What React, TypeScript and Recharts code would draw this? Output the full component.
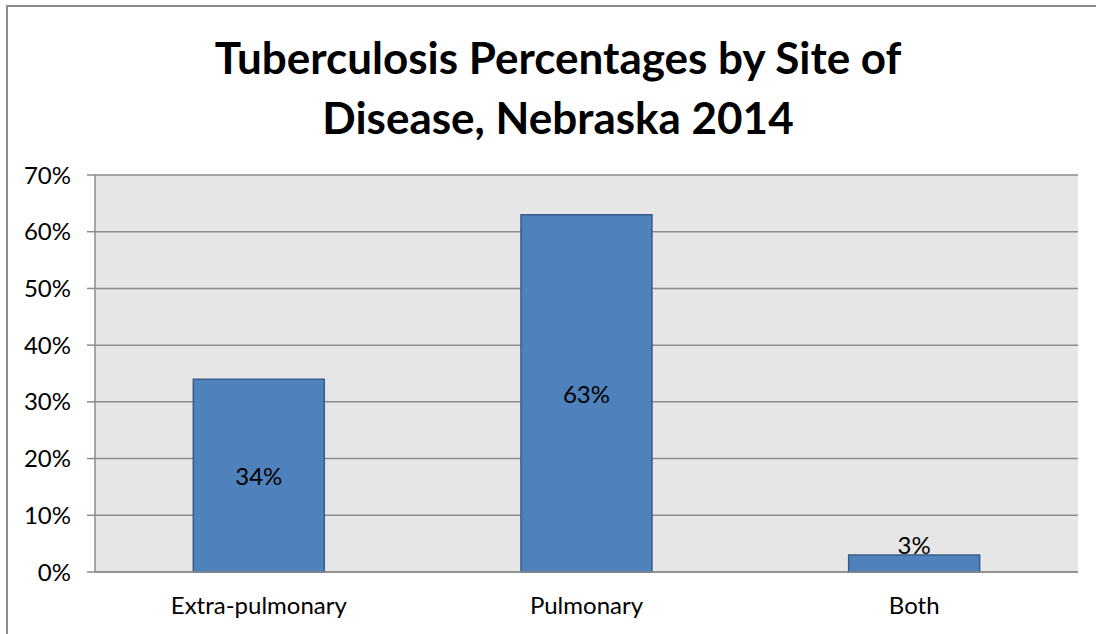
import React from 'react';
import {
  BarChart,
  Bar,
  XAxis,
  YAxis,
  CartesianGrid,
  LabelList,
} from 'recharts';

const categories = ['Extra-pulmonary', 'Pulmonary', 'Both'];
const percentages = [34, 63, 3];
const yTicks = [0, 10, 20, 30, 40, 50, 60, 70];
const boundaryTicks = [0, 1, 2, 3];

const data = categories.map((name, i) => ({ name, value: percentages[i], pos: i + 0.5 }));

const FONT = 'Lato, "Open Sans", sans-serif';

// Excel puts the label in the middle of the bar, or above it when the bar is too short
const BarLabel: React.FC<any> = ({ x, y, width, height, value }) => {
  const cx = x + width / 2;
  const inside = height > 30;
  const ty = inside ? y + height / 2 : y - 10;
  return (
    <text
      x={cx}
      y={ty}
      textAnchor="middle"
      dominantBaseline="central"
      fontFamily={FONT}
      fontSize={24}
      fill="#000"
    >
      {`${value}%`}
    </text>
  );
};

const App: React.FC = () => {
  return (
    <div style={{ position: 'fixed', left: 0, top: 0, width: 1096, height: 634, background: '#fff', overflow: 'hidden' }}>
      <div
        style={{
          position: 'absolute',
          left: 6,
          top: 5,
          width: 1120,
          height: 660,
          border: '2px solid #8a8a8a',
          boxSizing: 'border-box',
        }}
      />
      <div
        style={{
          position: 'absolute',
          left: 0,
          top: 27,
          width: 1116,
          textAlign: 'center',
          fontFamily: FONT,
          fontWeight: 700,
          fontSize: 44,
          lineHeight: '60px',
          color: '#000',
        }}
      >
        Tuberculosis Percentages by Site of
        <br />
        Disease, Nebraska 2014
      </div>
      <div style={{ position: 'absolute', left: 0, top: 0 }}>
        <BarChart
          width={1096}
          height={634}
          data={data}
          margin={{ top: 175, right: 18, left: 0, bottom: 0 }}
          barCategoryGap="30%"
        >
          <CartesianGrid vertical={false} fill="#e6e6e6" stroke="#8c8c8c" strokeWidth={1.5} />
          <XAxis
            xAxisId="cat"
            dataKey="name"
            height={62}
            axisLine={{ stroke: '#8c8c8c', strokeWidth: 1.5 }}
            tickLine={false}
            tick={{ fill: '#000', fontSize: 24, fontFamily: FONT }}
            tickMargin={19}
          />
          <XAxis
            xAxisId="edge"
            type="number"
            dataKey="pos"
            domain={[0, 3]}
            ticks={boundaryTicks}
            height={0}
            axisLine={false}
            tick={false}
            tickLine={{ stroke: '#8c8c8c', strokeWidth: 1.5 }}
            tickSize={8}
            orientation="bottom"
          />
          <YAxis
            width={95}
            domain={[0, 70]}
            ticks={yTicks}
            tickFormatter={(v) => `${v}%`}
            axisLine={{ stroke: '#8c8c8c', strokeWidth: 1.5 }}
            tickLine={{ stroke: '#8c8c8c', strokeWidth: 1.5 }}
            tickSize={8}
            tickMargin={16}
            tick={{ fill: '#000', fontSize: 24, fontFamily: FONT }}
          />
          <Bar
            xAxisId="cat"
            dataKey="value"
            fill="#4f81bd"
            stroke="#385d8a"
            strokeWidth={1.5}
            isAnimationActive={false}
          >
            <LabelList dataKey="value" content={<BarLabel />} />
          </Bar>
        </BarChart>
      </div>
    </div>
  );
};

export default App;
